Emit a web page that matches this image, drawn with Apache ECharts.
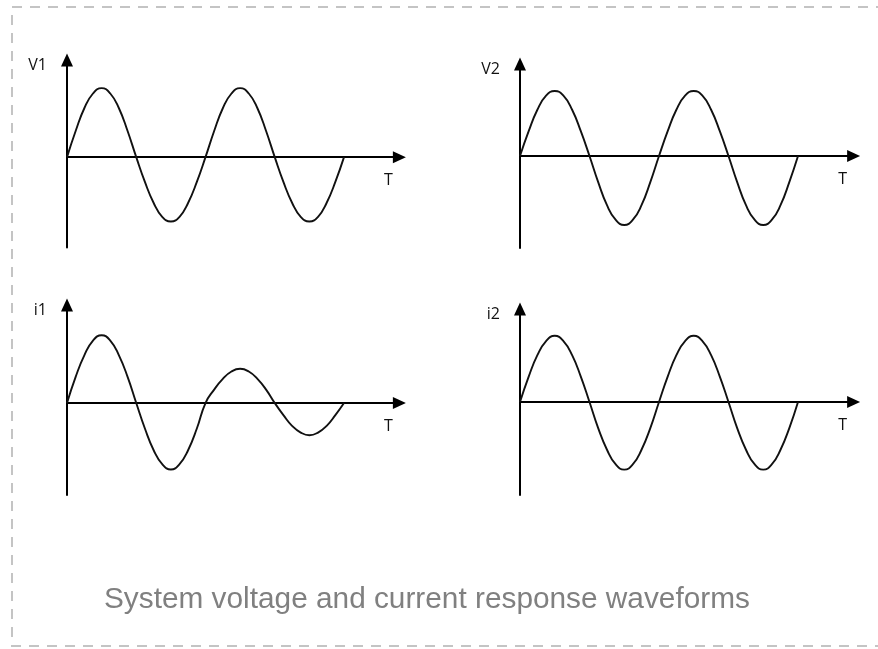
<!DOCTYPE html>
<html>
<head>
<meta charset="utf-8">
<script src="https://cdn.jsdelivr.net/npm/echarts@6/dist/echarts.min.js"></script>
<style>
html,body{margin:0;padding:0;background:#fff;}
#chart{width:878px;height:649px;}
</style>
</head>
<body>
<div id="chart"></div>
<script>
// time in periods (1/16 period steps, two periods)
const timeT = [0,0.0625,0.125,0.1875,0.25,0.3125,0.375,0.4375,0.5,0.5625,0.625,0.6875,0.75,0.8125,0.875,0.9375,1,
               1.0625,1.125,1.1875,1.25,1.3125,1.375,1.4375,1.5,1.5625,1.625,1.6875,1.75,1.8125,1.875,1.9375,2];
const v1 = [0,0.39,0.73,0.95,1.03,0.95,0.73,0.39,0,-0.37,-0.68,-0.89,-0.96,-0.89,-0.68,-0.37,0,
            0.39,0.73,0.95,1.03,0.95,0.73,0.39,0,-0.37,-0.68,-0.89,-0.96,-0.89,-0.68,-0.37,0];
const v2 = [0,0.37,0.69,0.9,0.97,0.9,0.69,0.37,0,-0.39,-0.73,-0.95,-1.03,-0.95,-0.73,-0.39,0,
            0.37,0.69,0.9,0.97,0.9,0.69,0.37,0,-0.39,-0.73,-0.95,-1.03,-0.95,-0.73,-0.39,0];
const i1 = [0,0.39,0.71,0.93,1.01,0.93,0.71,0.39,0,-0.38,-0.7,-0.91,-0.99,-0.91,-0.7,-0.38,0,
            0.2,0.36,0.47,0.51,0.47,0.36,0.2,0,-0.18,-0.34,-0.44,-0.48,-0.44,-0.34,-0.18,0];
const i2 = [0,0.38,0.7,0.91,0.99,0.91,0.7,0.38,0,-0.39,-0.71,-0.93,-1.01,-0.93,-0.71,-0.39,0,
            0.38,0.7,0.91,0.99,0.91,0.7,0.38,0,-0.39,-0.71,-0.93,-1.01,-0.93,-0.71,-0.39,0];
const seriesNames = ['V1','V2','i1','i2'];
const seriesData = [v1, v2, i1, i2];
const axisT = 'T';
const titleText = 'System voltage and current response waveforms';

const grids = [
  {left:67, top:60, width:332.4, height:187.6},
  {left:520, top:64, width:333.6, height:184},
  {left:67, top:305, width:332.4, height:190},
  {left:520, top:309, width:333.6, height:186}
];
const yRanges = [[-1.35,1.45],[-1.373,1.373],[-1.37,1.46],[-1.39,1.39]];

const axisLine = {
  show:true,
  onZero:true,
  symbol:['none','triangle'],
  symbolSize:[12,13],
  lineStyle:{color:'#000', width:2}
};

const xAxes = grids.map((g,k)=>({
  type:'value', gridIndex:k, min:0, max:2.4,
  axisLine:axisLine, axisTick:{show:false}, axisLabel:{show:false}, splitLine:{show:false},
  name:axisT, nameLocation:'end', nameGap:-11,
  nameTextStyle:{align:'center', verticalAlign:'top', padding:[15,0,0,0], fontSize:16, color:'#111', fontFamily:'Open Sans'}
}));
const yAxes = grids.map((g,k)=>({
  type:'value', gridIndex:k, min:yRanges[k][0], max:yRanges[k][1],
  axisLine:axisLine, axisTick:{show:false}, axisLabel:{show:false}, splitLine:{show:false},
  name:seriesNames[k], nameLocation:'end', nameGap:-5,
  nameTextStyle:{align:'right', verticalAlign:'middle', padding:[0,20,0,0], fontSize:16, color:'#111', fontFamily:'Open Sans'}
}));
const series = seriesData.map((d,k)=>({
  type:'line', xAxisIndex:k, yAxisIndex:k, smooth:true, showSymbol:false,
  lineStyle:{color:'#111', width:1.9},
  data: timeT.map((t,j)=>[t, d[j]])
}));

const chart = echarts.init(document.getElementById('chart'), null, {renderer:'canvas'});
chart.setOption({
  animation:false,
  backgroundColor:'#fff',
  title:{text:titleText, left:104, top:585, padding:0,
    textStyle:{fontSize:29.8, fontWeight:'normal', color:'#808080', fontFamily:'Liberation Sans'}},
  grid:grids,
  xAxis:xAxes,
  yAxis:yAxes,
  series:series,
  graphic:[{
    type:'polyline', silent:true,
    shape:{points:[[940,7],[12,7],[12,646],[940,646]]},
    style:{fill:null, stroke:'#c4c4c4', lineWidth:2, lineDash:[10,8]}
  }]
});
</script>
</body>
</html>
